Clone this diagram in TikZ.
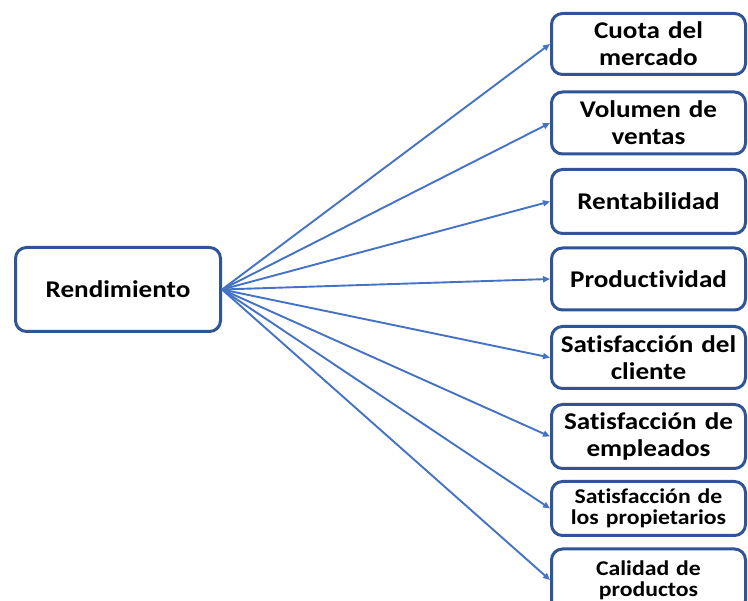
\documentclass[tikz,border=0pt]{standalone}
\usepackage{fontspec}
\setmainfont{Carlito}
\newfontfamily\cajafont[FakeStretch=1.13,Ligatures=NoCommon]{Carlito}
\usetikzlibrary{arrows.meta,positioning}
\definecolor{borde}{HTML}{2F5597}
\definecolor{linea}{HTML}{4472C4}
\tikzset{
  caja/.style={draw=borde,line width=3pt,rounded corners=11pt,fill=white,align=center,
               font=\cajafont\fontsize{24}{27}\selectfont\bfseries,inner sep=1pt},
  meta/.style={caja,minimum width=194pt,minimum height=62pt,text width=190pt},
  chica/.style={font=\cajafont\fontsize{21}{21}\selectfont\bfseries},
  flecha/.style={-{Triangle[length=7pt,width=6pt]},draw=linea,fill=linea,line width=1.9pt},
}
\begin{document}
\begin{tikzpicture}[x=1pt,y=1pt]
  \useasboundingbox (0,0) rectangle (748,-601);
  \node[caja,minimum width=205pt,minimum height=84pt] (rend) at (118,-289.5) {Rendimiento};
  \node[meta,minimum height=61pt] (cuota) at (648.5,-44) {Cuota del\\ mercado};
  \node[meta] (vol) at (648.5,-123) {Volumen de\\ ventas};
  \node[meta,minimum height=64pt] (rent) at (648.5,-201.5) {Rentabilidad};
  \node[meta] (prod) at (648.5,-279) {Productividad};
  \node[meta] (cli) at (648.5,-357.5) {Satisfacción del\\ cliente};
  \node[meta,minimum height=64pt] (emp) at (648.5,-436.5) {Satisfacción de\\ empleados};
  \node[meta,chica,minimum height=54pt] (prop) at (648.5,-508.5) {Satisfacción de\\ los propietarios};
  \node[meta,chica] (cal) at (648.5,-580) {Calidad de\\ productos};
  \draw[flecha] (rend.east) -- (cuota.west);
  \draw[flecha] (rend.east) -- (vol.west);
  \draw[flecha] (rend.east) -- (rent.west);
  \draw[flecha] (rend.east) -- (prod.west);
  \draw[flecha] (rend.east) -- (cli.west);
  \draw[flecha] (rend.east) -- (emp.west);
  \draw[flecha] (rend.east) -- (prop.west);
  \draw[flecha] (rend.east) -- (cal.west);
\end{tikzpicture}
\end{document}
